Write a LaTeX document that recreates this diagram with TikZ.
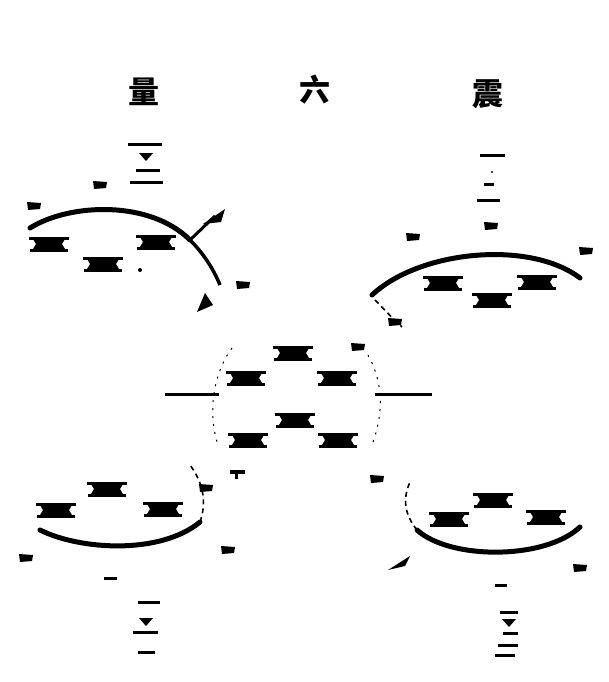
\documentclass[tikz,border=0pt]{standalone}
\usepackage{fontspec}
\newfontfamily\cjk{Noto Sans CJK SC}
\begin{document}
\begin{tikzpicture}[x=1pt,y=-1pt,
  arcline/.style={line width=5pt,line cap=round},
  dotarc/.style={line width=1pt,dash pattern=on 2pt off 6pt},
  dashline/.style={line width=1.6pt,dash pattern=on 5pt off 4pt},
  bar/.style={line width=3pt},
  ttl/.style={font=\cjk\bfseries\fontsize{31}{31}\selectfont,inner sep=0pt},
  blob/.pic={
    \fill (-20,-7.5) rectangle (20,-4.5);
    \fill (-16,-5) -- (16,-5) -- (13,0) -- (16,5) -- (-16,5) -- (-13,0) -- cycle;
    \fill (-19,4.5) rectangle (19,7.5);
  },
  spot/.pic={\fill (-7,-4) -- (7,-3) -- (6,3) -- (-6,4) -- cycle;},
  vee/.pic={\fill (-7,-3) -- (7,-3) -- (0,5) -- cycle;}
]
\useasboundingbox (0,0) rectangle (608,682);

% title characters
\node[ttl] (t1) at (144,92) {量};
\node[ttl] (t2) at (315,90) {六};
\node[ttl] (t3) at (488,94) {震};

% ---------------- top-left group
\draw[arcline] (30,228) .. controls (70,203) and (150,200) .. (190,240);
\draw[line width=3.5pt] (190,240) .. controls (203,253) and (213,268) .. (220,285);
\draw[line width=3pt] (190,240) -- (215,216);
\fill (203,224) -- (225,209) -- (221,222) -- cycle;
\pic at (49,244) {blob};
\pic at (103,264) {blob};
\pic at (156,242) {blob};
\draw[bar] (128,144) -- (162,144);
\pic at (146,156) {vee};
\draw[bar] (136,170) -- (160,170);
\draw[bar] (130,182) -- (163,182);
\pic at (100,185) {spot};
\pic at (34,206) {spot};
\fill (140,270) circle (2pt);
\pic at (243,285) {spot};
\fill (197,312) -- (213,305) -- (205,293) -- cycle;

% ---------------- top-right group
\draw[arcline] (372,295) .. controls (420,250) and (530,240) .. (580,278);
\draw[dashline] (375,300) .. controls (385,310) and (392,318) .. (402,327);
\pic at (443,283) {blob};
\pic at (492,300) {blob};
\pic at (537,282) {blob};
\draw[bar] (480,155) -- (505,155);
\fill (492,172) circle (1.2pt);
\draw[bar] (484,184) -- (494,184);
\draw[bar] (477,200) -- (500,200);
\pic at (491,226) {spot};
\pic at (413,237) {spot};
\pic at (586,251) {spot};

% ---------------- centre group
\pic at (293,353) {blob};
\pic at (246,378) {blob};
\pic at (337,378) {blob};
\pic at (295,420) {blob};
\pic at (248,440) {blob};
\pic at (338,440) {blob};
\coordinate (cl) at (165,394);
\coordinate (cr) at (432,394);
\coordinate (cli) at (219,394);
\coordinate (cri) at (375,394);
\draw[bar] (cl) -- (cli);
\draw[bar] (cri) -- (cr);
\draw[dotarc] (232,348) .. controls (212,375) and (208,415) .. (218,445);
\draw[dotarc] (368,355) .. controls (382,380) and (385,410) .. (372,445);
\pic at (358,347) {spot};
\pic at (395,322) {spot};

% ---------------- bottom-left group
\draw[arcline] (40,530) .. controls (80,550) and (160,555) .. (200,522);
\draw[dashline] (200,522) .. controls (206,505) and (205,485) .. (190,465);
\pic at (107,489) {blob};
\pic at (56,510) {blob};
\pic at (163,509) {blob};
\fill (230,470) rectangle (245,474);
\fill (235,474) rectangle (238,479);
\pic at (206,488) {spot};
\pic at (228,550) {spot};
\pic at (26,558) {spot};
\draw[bar] (104,578) -- (117,578);
\draw[bar] (138,602) -- (160,602);
\pic at (146,621) {vee};
\draw[bar] (133,632) -- (158,632);
\draw[bar] (138,652) -- (155,652);

% ---------------- bottom-right group
\draw[arcline] (417,530) .. controls (450,560) and (545,560) .. (580,527);
\draw[dashline] (417,530) .. controls (405,515) and (402,500) .. (410,482);
\pic at (493,500) {blob};
\pic at (449,519) {blob};
\pic at (546,517) {blob};
\pic at (377,479) {spot};
\fill (388,570) -- (410,556) -- (405,566) -- cycle;
\pic at (580,568) {spot};
\draw[bar] (495,585) -- (507,585);
\draw[bar] (500,612) -- (518,612);
\pic at (509,622) {vee};
\draw[bar] (503,633) -- (518,633);
\draw[bar] (498,645) -- (518,645);
\draw[bar] (495,655) -- (515,655);
\end{tikzpicture}
\end{document}
